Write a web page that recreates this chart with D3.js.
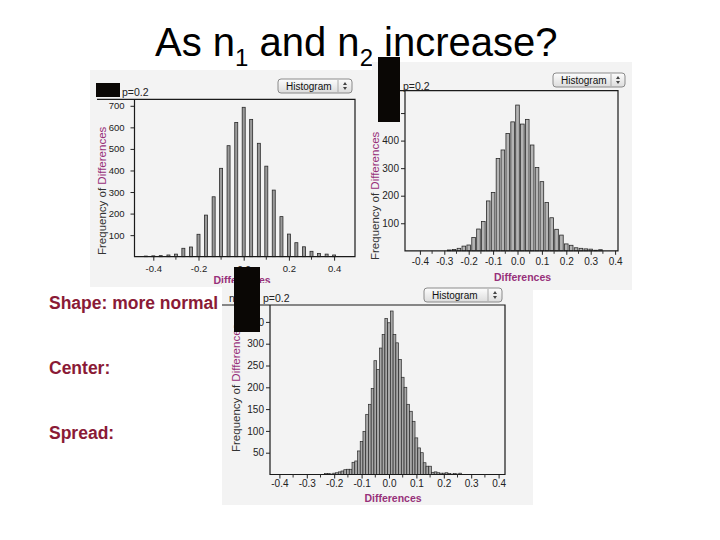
<!DOCTYPE html>
<html><head><meta charset="utf-8">
<script src="https://cdn.jsdelivr.net/npm/d3@7"></script>
<style>
body{margin:0;background:#fff;}
svg{display:block;font-family:"Liberation Sans",Arial,Helvetica,sans-serif;}
</style>
</head><body>
<svg id="c" width="720" height="540"></svg>
<script>
// ---------- data ----------
const titleParts = ["As n", "1", " and n", "2", " increase?"];
const notes = ["Shape: more normal", "Center:", "Spread:"];

// Chart 1 (small samples)
const diffs1 = [-0.433,-0.4,-0.367,-0.333,-0.3,-0.267,-0.233,-0.2,-0.167,-0.133,-0.1,-0.067,-0.033,0,0.033,0.067,0.1,0.133,0.167,0.2,0.233,0.267,0.3,0.333,0.367,0.4];
const freq1  = [3,4,5,8,12,39,45,104,193,278,410,515,623,693,637,526,420,309,186,105,65,46,25,15,12,8];
const yTicks1 = [100,200,300,400,500,600,700];
const xTicks1 = [-0.4,-0.2,0,0.2,0.4];

// Chart 2 (medium samples)
const diffs2 = [-0.28,-0.26,-0.24,-0.22,-0.2,-0.18,-0.16,-0.14,-0.12,-0.1,-0.08,-0.06,-0.04,-0.02,0,0.02,0.04,0.06,0.08,0.1,0.12,0.14,0.16,0.18,0.2,0.22,0.24,0.26,0.28,0.3,0.32,0.34];
const freq2  = [3,5,9,17,21,48,79,106,181,212,335,366,426,468,529,460,477,384,302,251,175,120,78,57,25,20,11,9,7,6,2,4];
const yTicks2 = [100,200,300,400,500];
const xTicks2 = [-0.4,-0.3,-0.2,-0.1,0,0.1,0.2,0.3,0.4];

// Chart 3 (large samples)
const diffs3 = [-0.23,-0.22,-0.21,-0.2,-0.19,-0.18,-0.17,-0.16,-0.15,-0.14,-0.13,-0.12,-0.11,-0.1,-0.09,-0.08,-0.07,-0.06,-0.05,-0.04,-0.03,-0.02,-0.01,0,0.01,0.02,0.03,0.04,0.05,0.06,0.07,0.08,0.09,0.1,0.11,0.12,0.13,0.14,0.15,0.16,0.17,0.18,0.19,0.2,0.21,0.22,0.23,0.24,0.25,0.26];
const freq3  = [2,2,1,3,4,6,8,11,12,12,28,31,54,76,99,138,161,197,261,241,290,321,358,348,375,321,302,264,223,200,161,145,122,84,61,50,27,19,19,5,6,4,3,3,4,2,1,2,1,3];
const yTicks3 = [50,100,150,200,250,300,350];
const xTicks3 = [-0.4,-0.3,-0.2,-0.1,0,0.1,0.2,0.3,0.4];

const pLabel = "p=0.2";
const nLabel = "n";
const yTitleA = "Frequency of ", yTitleB = "Differences";
const xTitle = "Differences";
const buttonText = "Histogram";

// ---------- drawing ----------
const svg = d3.select("#c");
const fmtX = d => d3.format(".1f")(d).replace("\u2212","-");

// title
const t = svg.append("text").attr("x",155).attr("y",56).attr("font-size",40).attr("fill","#000");
titleParts.forEach((s,i)=>{
  const sp = t.append("tspan").text(s);
  if(i%2===1){ sp.attr("font-size",24).attr("dy",10); }
  else if(i>0){ sp.attr("dy",-10); }
});

function drawHist(cfg){
  const g = svg.append("g");
  g.append("rect").attr("x",cfg.region[0]).attr("y",cfg.region[1])
    .attr("width",cfg.region[2]).attr("height",cfg.region[3]).attr("fill","#f3f3f3");
  const x = d3.scaleLinear().domain([-0.4,0.4]).range(cfg.xr);
  const y = d3.scaleLinear().domain([0,cfg.yRef]).range([cfg.base, cfg.yRefPx]);
  const L = cfg.left, R = cfg.right, T = cfg.top, B = cfg.base;
  // bars
  g.selectAll("rect.bar").data(cfg.diffs).join("rect").attr("class","bar")
    .attr("x",(d)=>x(d)-cfg.bw/2).attr("width",cfg.bw)
    .attr("y",(d,i)=>y(cfg.freq[i])).attr("height",(d,i)=>B-y(cfg.freq[i]))
    .attr("fill",cfg.fill).attr("stroke","#2a2a2a").attr("stroke-width",cfg.sw);
  // frame
  g.append("path").attr("d",`M${cfg.topStart},${T}H${R}V${B}H${L}V${T}`)
    .attr("fill","none").attr("stroke","#1a1a1a").attr("stroke-width",1.2);
  // y axis
  const ya = g.append("g").attr("transform",`translate(${L},0)`)
    .call(d3.axisLeft(y).tickValues(cfg.yTicks).tickSize(4).tickPadding(cfg.yPad));
  ya.select(".domain").remove();
  ya.selectAll("text").attr("font-size",cfg.fs).attr("fill","#222").attr("font-family","Liberation Sans, Arial, sans-serif");
  ya.selectAll("line").attr("stroke","#222");
  // x axis
  const xa = g.append("g").attr("transform",`translate(0,${B})`)
    .call(d3.axisBottom(x).tickValues(cfg.xTicks).tickSize(4).tickPadding(cfg.xPad).tickFormat(fmtX));
  xa.select(".domain").remove();
  xa.selectAll("text").attr("font-size",cfg.fs).attr("fill","#222").attr("font-family","Liberation Sans, Arial, sans-serif");
  xa.selectAll("line").attr("stroke","#222");
  // minor x ticks
  g.selectAll("line.mx").data(cfg.minor).join("line").attr("class","mx")
    .attr("x1",d=>x(d)).attr("x2",d=>x(d)).attr("y1",B).attr("y2",B+3).attr("stroke","#333");
  // y title
  const yt = g.append("text").attr("transform",`translate(${cfg.ytx},${cfg.yty}) rotate(-90)`)
    .attr("font-size",11.5);
  yt.append("tspan").text(yTitleA).attr("fill","#333");
  yt.append("tspan").text(yTitleB).attr("fill","#97307a");
  // x title
  g.append("text").attr("x",cfg.xtx).attr("y",cfg.xty).attr("text-anchor","middle")
    .attr("font-size",10.5).attr("font-weight","bold").attr("fill","#97307a").text(xTitle);
  // n label (mostly hidden) and p label
  if(cfg.showN){
    g.append("text").attr("x",cfg.nx).attr("y",cfg.py).attr("font-size",10.5).attr("fill","#222").text(nLabel);
  }
  g.append("text").attr("x",cfg.px).attr("y",cfg.py).attr("font-size",10.5).attr("fill","#222").text(pLabel);
  // button
  const [bx,by,bw,bh] = cfg.btn;
  const gid = "grad"+cfg.id;
  const grad = svg.append("defs").append("linearGradient").attr("id",gid).attr("x1",0).attr("y1",0).attr("x2",0).attr("y2",1);
  grad.append("stop").attr("offset","0").attr("stop-color","#fdfdfd");
  grad.append("stop").attr("offset","1").attr("stop-color","#dcdcdc");
  g.append("rect").attr("x",bx).attr("y",by).attr("width",bw).attr("height",bh).attr("rx",3)
    .attr("fill",`url(#${gid})`).attr("stroke","#8a8a8a");
  g.append("text").attr("x",bx+8).attr("y",by+bh/2+3.6).attr("font-size",10).attr("fill","#111").text(buttonText);
  g.append("line").attr("x1",bx+bw-14).attr("x2",bx+bw-14).attr("y1",by+1).attr("y2",by+bh-1).attr("stroke","#aaa");
  const ax = bx+bw-7, ay = by+bh/2;
  g.append("path").attr("d",`M${ax-2},${ay-1}L${ax},${ay-4}L${ax+2},${ay-1}Z M${ax-2},${ay+1}L${ax},${ay+4}L${ax+2},${ay+1}Z`).attr("fill","#444");
  // black redaction box
  g.append("rect").attr("x",cfg.box[0]).attr("y",cfg.box[1]).attr("width",cfg.box[2]).attr("height",cfg.box[3]).attr("fill","#0a0705");
}

drawHist({id:1, region:[90,70,300,217], xr:[153.3,334.1], base:256.7, yRef:700, yRefPx:105.8,
  left:134.5, right:355, top:99.3, topStart:97, diffs:diffs1, freq:freq1, bw:3, sw:0.8, fill:"#9a9a9a",
  yTicks:yTicks1, xTicks:xTicks1, minor:[-0.3,-0.1,0.1,0.3], yPad:6, xPad:5, fs:9.5,
  ytx:106, yty:255, xtx:242, xty:284, px:122, py:95.5, showN:false,
  btn:[278,79,74,14], box:[96,83,24,14]});

drawHist({id:2, region:[372,62,260,228], xr:[419.9,615.1], base:250.8, yRef:400, yRefPx:140.6,
  left:405, right:618, top:90.7, topStart:400, diffs:diffs2, freq:freq2, bw:3.6, sw:0.8, fill:"#b4b4b4",
  yTicks:yTicks2, xTicks:xTicks2, minor:[-0.35,-0.25,-0.15,-0.05,0.05,0.15,0.25,0.35], yPad:2, xPad:3, fs:10,
  ytx:379, yty:260, xtx:522.5, xty:281, px:403, py:89.5, showN:false,
  btn:[553,73,72,14], box:[378,57,22,65]});

drawHist({id:3, region:[222,283,311,222], xr:[279.4,498.6], base:474.5, yRef:300, yRefPx:343.7,
  left:270, right:505, top:305, topStart:222, diffs:diffs3, freq:freq3, bw:2.74, sw:0.7, fill:"#a8a8a8",
  yTicks:yTicks3, xTicks:xTicks3, minor:[-0.35,-0.25,-0.15,-0.05,0.05,0.15,0.25,0.35], yPad:2, xPad:1.5, fs:10,
  ytx:240, yty:452, xtx:393, xty:502, nx:229, px:263, py:302, showN:true,
  btn:[424,288,78,14], box:[234,267,26,65]});

// notes on the left
notes.forEach((s,i)=>{
  svg.append("text").attr("x",49).attr("y",309+i*65).attr("font-size",17.5).attr("font-weight","bold")
    .attr("fill","#8a1a36").text(s);
});
</script>
</body></html>
